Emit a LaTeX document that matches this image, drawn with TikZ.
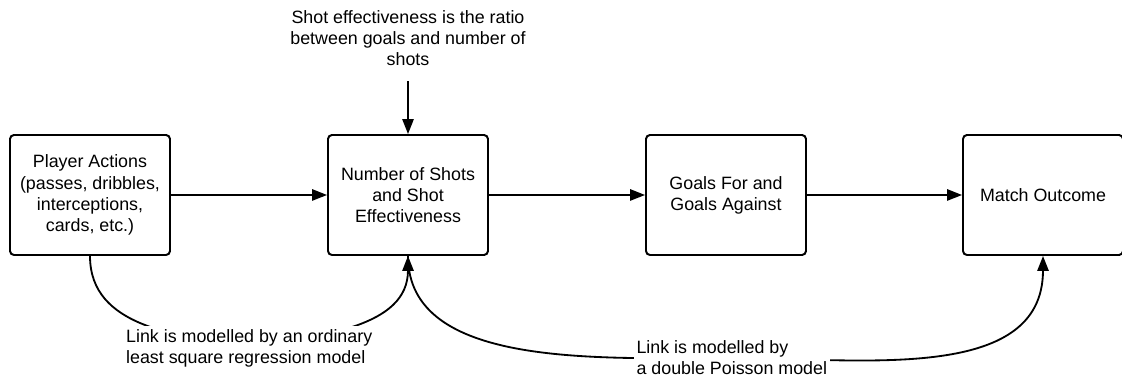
\documentclass[tikz,border=0pt]{standalone}
\usepackage{fontspec}
\setmainfont{Liberation Sans}
\usetikzlibrary{arrows.meta, backgrounds, positioning}

\begin{document}
\begin{tikzpicture}[->,>={Triangle[length=0.37cm,width=0.28cm]}, line width=1.3pt, font=\fontsize{12.7}{15}\selectfont]
    \tikzstyle{block}=[shape=rectangle, rounded corners=0.1cm, draw=black, fill=white, text=black, minimum width=4cm, minimum height=3cm, align=center, line width=1.4pt]
    \tikzstyle{note}=[shape=rectangle, fill=white, text=black, align=left, inner sep=2pt]
    \tikzstyle{link}=[->, line width=1.3pt]

\useasboundingbox (0,0) rectangle (28.05,9.475);

\node[block]         (pa) at (2.25, 4.6)       {Player Actions\\(passes, dribbles,\\interceptions,\\cards, etc.)};
\node[block]         (ns) at (10.2, 4.6)       {Number of Shots\\and Shot\\Effectiveness};
\node[block]         (gf) at (18.15, 4.6)      {Goals For and\\Goals Against};
\node[block]         (mo) at (26.075, 4.6)     {Match Outcome};
\node[align=center]  (se) at (10.2, 8.525)     {Shot effectiveness is the ratio\\between goals and number of\\shots};
\node[note, anchor=west] (lbl1) at (3.06, 0.775)  {Link is modelled by an ordinary\\least square regression model};
\node[note, anchor=west] (lbl2) at (15.82, 0.525) {Link is modelled by\\a double Poisson model};

\path
(pa) edge  (ns)
(ns) edge  (gf)
(gf) edge  (mo)
(se) edge[shorten <=0.25cm]  (ns);

\begin{scope}[on background layer]
\draw[link] (pa.south) to[out=-90,in=170] (lbl1.center) to[out=10,in=-90] (ns.south);
\draw[link] (ns.south) to[out=-90,in=180,out looseness=0.85] (lbl2.center) to[out=0,in=-90] (mo.south);
\end{scope}
\end{tikzpicture}
\end{document}
